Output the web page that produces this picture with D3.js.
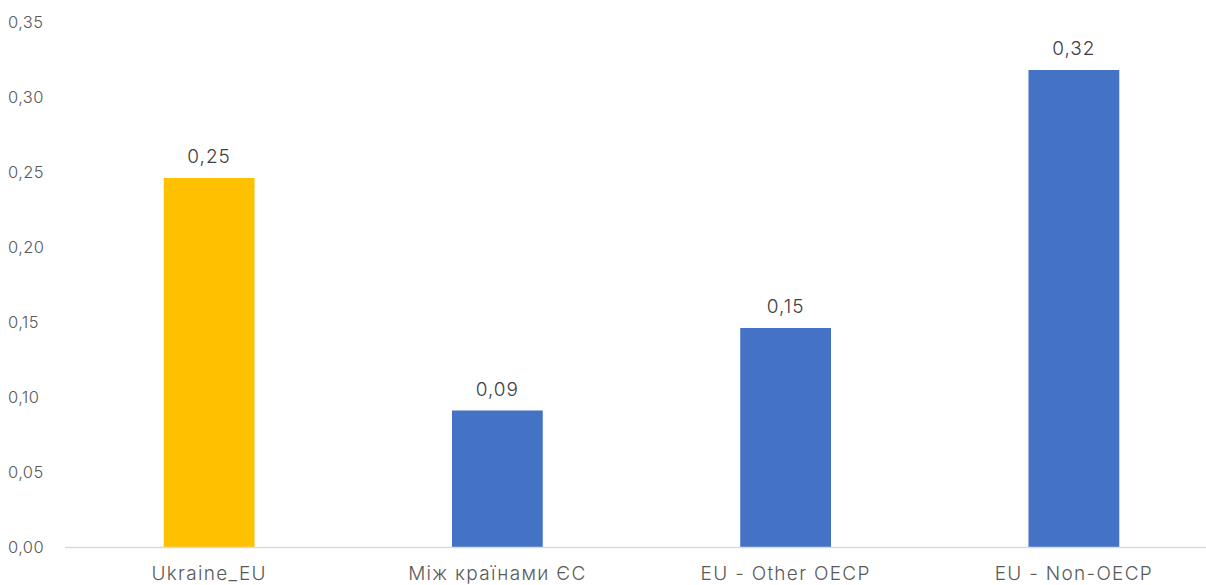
<!DOCTYPE html>
<html>
<head>
<meta charset="utf-8">
<script src="https://cdn.jsdelivr.net/npm/d3@7"></script>
<style>
  body { margin: 0; background: #fff; }
  svg { display: block; font-family: Inter, "Noto Sans", sans-serif; font-weight: 300; }
</style>
</head>
<body>
<svg id="chart" width="1206" height="585"></svg>
<script>
const categories = ['Ukraine_EU', 'Між країнами ЄС', 'EU - Other OECP', 'EU - Non-OECP'];
const values = [0.246, 0.091, 0.146, 0.318];
const barColors = ['#ffc000', '#4472c4', '#4472c4', '#4472c4'];
const yTicks = [0, 0.05, 0.1, 0.15, 0.2, 0.25, 0.3, 0.35];

const svg = d3.select('#chart');
const plotLeft = 65, plotRight = 1218, plotTop = 22, plotBottom = 547;

const fmt = (v) => v.toFixed(2).replace('.', ',');

const x = d3.scaleBand().domain(categories).range([plotLeft, plotRight]).paddingInner(0.685).paddingOuter(0.3425);
const y = d3.scaleLinear().domain([0, 0.35]).range([plotBottom, plotTop]);

// y tick labels (no axis line, no gridlines)
svg.append('g')
    .selectAll('text')
    .data(yTicks)
    .join('text')
    .attr('x', 8)
    .attr('y', (d) => y(d))
    .attr('dy', '0.35em')
    .attr('font-size', 16.5)
    .attr('letter-spacing', 0.4)
    .attr('fill', '#595959')
    .text((d) => fmt(d));

// bars
svg.append('g')
    .selectAll('rect')
    .data(values)
    .join('rect')
    .attr('x', (d, i) => x(categories[i]))
    .attr('y', (d) => y(d))
    .attr('width', x.bandwidth())
    .attr('height', (d) => y(0) - y(d))
    .attr('fill', (d, i) => barColors[i]);

// baseline
svg.append('line')
    .attr('x1', plotLeft).attr('x2', 1206)
    .attr('y1', y(0) + 0.5).attr('y2', y(0) + 0.5)
    .attr('stroke', '#d9d9d9')
    .attr('stroke-width', 1.5);

// value labels
svg.append('g')
    .selectAll('text')
    .data(values)
    .join('text')
    .attr('x', (d, i) => x(categories[i]) + x.bandwidth() / 2)
    .attr('y', (d) => y(d) - 15)
    .attr('text-anchor', 'middle')
    .attr('font-size', 19)
    .attr('letter-spacing', 1)
    .attr('fill', '#404040')
    .text((d) => fmt(d));

// x labels
svg.append('g')
    .selectAll('text')
    .data(categories)
    .join('text')
    .attr('x', (d) => x(d) + x.bandwidth() / 2)
    .attr('y', 580)
    .attr('text-anchor', 'middle')
    .attr('font-size', 19)
    .attr('letter-spacing', 1.3)
    .attr('fill', '#595959')
    .text((d) => d);
</script>
</body>
</html>
